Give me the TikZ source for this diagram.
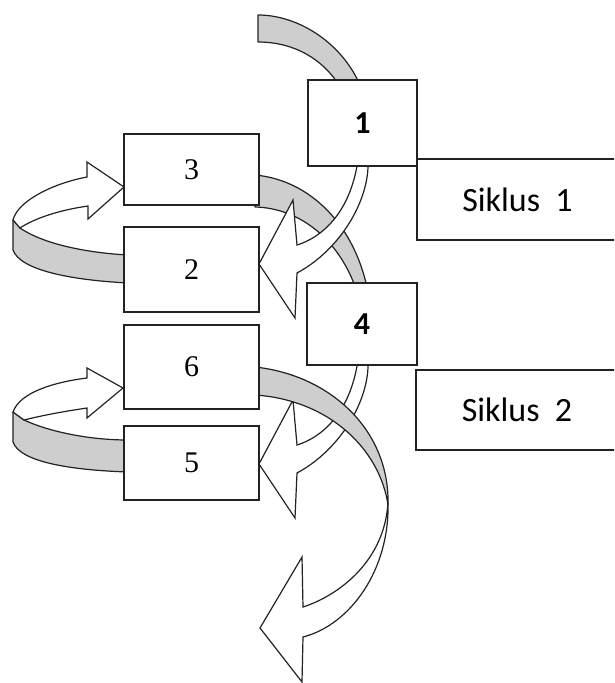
\documentclass[tikz,border=0pt]{standalone}
\usepackage{fontspec}
\setmainfont{Liberation Serif}
\newfontfamily\calibri{Carlito}
\definecolor{rg}{RGB}{206, 206, 206}
\definecolor{b}{HTML}{222222}
\tikzset{
    box/.style={draw=b,line width=1.3pt,fill=white,inner sep=0pt,outer sep=0pt,
        font=\fontsize{30}{30}\selectfont},
    sbox/.style={box,font=\calibri\bfseries\fontsize{32}{32}\selectfont},
    siklus/.style={box,font=\calibri\fontsize{34}{34}\selectfont},
    ribbonback/.style={fill=rg,draw=b,line width=1.2pt,line join=round},
    ribbonfront/.style={fill=white,draw=b,line width=1.2pt,line join=miter}
}

\begin{document}
\begin{tikzpicture}[x=1pt, y=-1pt]
			\clip (0,0) rectangle (614,683);
			% ribbons that run in under box 1 and box 4
			\draw[ribbonback] (258,15) .. controls (300,15) and (345,45) .. (362,90) -- (342,90) .. controls (325,60) and (295,42) .. (258,42) -- cycle;
			\draw[ribbonback] (255,175) .. controls (310,180) and (355,225) .. (368,292) -- (357,292) .. controls (340,240) and (300,208) .. (255,207) -- cycle;
			% from 1 to 2 and from 4 to 5
			\foreach \dy in {0,200}
				\draw[ribbonfront, shift={(0,\dy)}] (358,160) .. controls (350,215) and (320,238) .. (297,245) -- (293,200) -- (259,264) -- (295,318) -- (297,273) .. controls (340,250) and (370,200) .. (368,160) -- cycle;
			% loop 2 to 3
			\draw[ribbonback] (20,228) .. controls (45,245) and (90,253) .. (128,255) -- (128,283) .. controls (70,280) and (20,270) .. (13,250) -- (13,220) -- cycle;
			\draw[ribbonfront] (13,220) .. controls (18,200) and (55,183) .. (87,177) -- (87,162) -- (124,187) -- (88,219) -- (88,206) .. controls (60,210) and (35,218) .. (20,228) -- cycle;
			% loop 5 to 6
			\draw[ribbonback] (24,420) .. controls (50,432) and (90,440) .. (128,440) -- (128,472) .. controls (70,470) and (20,462) .. (13,442) -- (13,412) -- cycle;
			\draw[ribbonfront] (13,412) .. controls (20,392) and (55,382) .. (87,378) -- (87,368) -- (123,388) -- (87,418) -- (87,408) .. controls (60,412) and (40,416) .. (24,420) -- cycle;
			% out of 6, twisted
			\draw[ribbonfront] (388,502) .. controls (390,570) and (350,625) .. (303,637) -- (302,682) -- (260,628) -- (302,557) -- (303,607) .. controls (340,595) and (385,560) .. (388,502) -- cycle;
			\draw[ribbonback] (255,367) .. controls (330,375) and (390,430) .. (388,505) .. controls (380,450) and (330,400) .. (255,395) -- cycle;
			% boxes
			\node[sbox, minimum width=109pt, minimum height=86pt] (s1) at (362.5,123) {1};
			\node[box, minimum width=135pt, minimum height=71pt] (s3) at (191.5,169.5) {3};
			\node[box, minimum width=135pt, minimum height=85pt] (s2) at (191.5,269.5) {2};
			\node[sbox, minimum width=110pt, minimum height=82pt] (s4) at (362,324) {4};
			\node[box, minimum width=135pt, minimum height=84pt] (s6) at (191.5,367) {6};
			\node[box, minimum width=135pt, minimum height=74pt] (s5) at (191.5,463) {5};
			\node[siklus, minimum width=201pt, minimum height=81pt] (k1) at (517.5,199.5) {Siklus\hspace{0.45em}1};
			\node[siklus, minimum width=202pt, minimum height=80pt] (k2) at (517,410) {Siklus\hspace{0.45em}2};
		\end{tikzpicture}
\end{document}
